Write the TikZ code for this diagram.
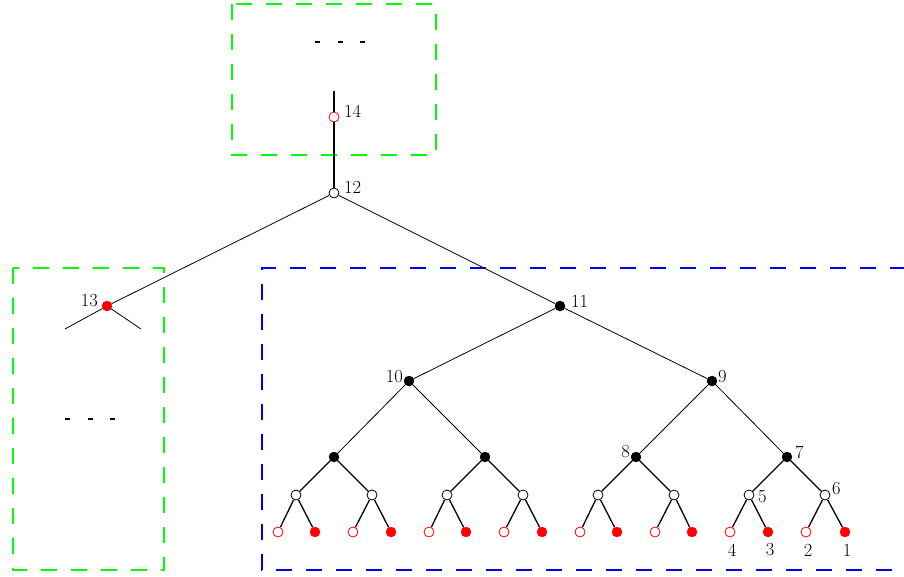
\documentclass[tikz,border=0pt]{standalone}
\usetikzlibrary{calc}
\definecolor{boxgreen}{RGB}{0,255,0}
\definecolor{boxblue}{RGB}{0,0,240}
\tikzset{
  x=1pt, y=-1pt,
  opennode/.style={circle, draw=black, fill=white, line width=0.8pt, inner sep=0pt, minimum size=10pt},
  fullnode/.style={circle, draw=black, fill=black, inner sep=0pt, minimum size=10pt},
  redopen/.style={circle, draw=red, fill=white, line width=0.8pt, inner sep=0pt, minimum size=10pt},
  redfull/.style={circle, draw=red, fill=red, inner sep=0pt, minimum size=10pt},
  thinedge/.style={draw=black, line width=0.8pt},
  edge/.style={draw=black, line width=1.3pt},
  thickedge/.style={draw=black, line width=2pt},
  greenbox/.style={draw=boxgreen, line width=2.4pt, dash pattern=on 16pt off 14pt},
  bluebox/.style={draw=boxblue, line width=2.4pt, dash pattern=on 16pt off 14pt},
  dotsline/.style={draw=black, line width=2.6pt, dash pattern=on 5pt off 17.5pt},
  lbl/.style={font=\fontsize{18.5}{20}\selectfont, inner sep=0pt}
}
\begin{document}
\begin{tikzpicture}
\useasboundingbox (0,0) rectangle (904,576);
% boxes
\draw[greenbox] (232,4) rectangle (436,155);
\draw[greenbox] (13,268) rectangle (164,570);
\draw[bluebox] (906,268) -- (262,268) -- (262,570) -- (906,570);
% dots
\draw[dotsline] (315,42) -- (365,42);
\draw[dotsline] (65,419) -- (116,419);
% nodes
\coordinate (top) at (334,91);
\node[redopen] (n14) at (334,117) {};
\node[opennode] (n12) at (334,193) {};
\node[redfull] (n13) at (107,306) {};
\coordinate (l13a) at (65,329);
\coordinate (l13b) at (141,329);
\node[fullnode] (n11) at (560,306) {};
\node[fullnode] (n10) at (409,381) {};
\node[fullnode] (n9) at (712,381) {};
\node[fullnode] (a1) at (334,457) {};
\node[fullnode] (a2) at (485,457) {};
\node[fullnode] (n8) at (636,457) {};
\node[fullnode] (n7) at (787,457) {};
\node[opennode] (b1) at (296,495) {};
\node[opennode] (b2) at (372,495) {};
\node[opennode] (b3) at (447,495) {};
\node[opennode] (b4) at (523,495) {};
\node[opennode] (b5) at (598,495) {};
\node[opennode] (b6) at (674,495) {};
\node[opennode] (n5) at (749,495) {};
\node[opennode] (n6) at (825,495) {};
\node[redopen] (c1) at (278,532) {};
\node[redfull] (c2) at (315,532) {};
\node[redopen] (c3) at (353,532) {};
\node[redfull] (c4) at (391,532) {};
\node[redopen] (c5) at (429,532) {};
\node[redfull] (c6) at (466,532) {};
\node[redopen] (c7) at (504,532) {};
\node[redfull] (c8) at (542,532) {};
\node[redopen] (c9) at (580,532) {};
\node[redfull] (c10) at (617,532) {};
\node[redopen] (c11) at (655,532) {};
\node[redfull] (c12) at (692,532) {};
\node[redopen] (c13) at (730,532) {};
\node[redfull] (c14) at (768,532) {};
\node[redopen] (c15) at (806,532) {};
\node[redfull] (c16) at (845,532) {};
% edges
\draw[thickedge] (top) -- (n14);
\draw[thickedge] (n14) -- (n12);
\draw[thinedge] (n12) -- (n13);
\draw[thinedge] (n12) -- (n11);
\draw[thinedge] (n13) -- (l13a);
\draw[thinedge] (n13) -- (l13b);
\draw[thinedge] (n11) -- (n10);
\draw[thinedge] (n11) -- (n9);
\draw[thinedge] (n10) -- (a1);
\draw[thinedge] (n10) -- (a2);
\draw[thinedge] (n9) -- (n8);
\draw[thinedge] (n9) -- (n7);
\foreach \p/\a/\b in {a1/b1/b2, a2/b3/b4, n8/b5/b6, n7/n5/n6,
  b1/c1/c2, b2/c3/c4, b3/c5/c6, b4/c7/c8, b5/c9/c10, b6/c11/c12, n5/c13/c14, n6/c15/c16}
{
  \draw[edge] (\p) -- (\a);
  \draw[edge] (\p) -- (\b);
}
% labels
\node[lbl, anchor=west] (t14) at (344,111) {14};
\node[lbl, anchor=west] (t12) at (344,187) {12};
\node[lbl, anchor=east] (t13) at (98,301) {13};
\node[lbl, anchor=west] (t11) at (571,301) {11};
\node[lbl, anchor=east] (t10) at (403,377) {10};
\node[lbl, anchor=west] (t9) at (718,377) {9};
\node[lbl, anchor=east] (t8) at (630,452) {8};
\node[lbl, anchor=west] (t7) at (795,452) {7};
\node[lbl, anchor=west] (t5) at (758,497) {5};
\node[lbl, anchor=west] (t6) at (832,489) {6};
\node[lbl] (t4) at (732,550) {4};
\node[lbl] (t3) at (770,550) {3};
\node[lbl] (t2) at (808,550) {2};
\node[lbl] (t1) at (847,550) {1};
\end{tikzpicture}
\end{document}
